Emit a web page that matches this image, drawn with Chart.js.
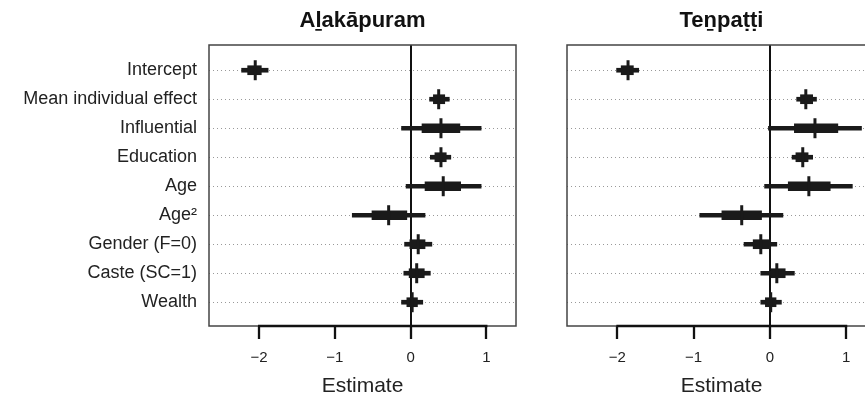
<!DOCTYPE html>
<html>
<head>
<meta charset="utf-8">
<script src="https://cdn.jsdelivr.net/npm/chart.js@4/dist/chart.umd.min.js"></script>
<style>
    body { margin: 0; width: 865px; height: 399px; overflow: hidden; position: relative; background: #fff; }
    .panel { position: absolute; top: 0; height: 399px; }
</style>
</head>
<body>
<div class="panel" style="left:0; width:541px"><canvas id="chart1"></canvas></div>
<div class="panel" style="left:541px; width:360px"><canvas id="chart2"></canvas></div>
<script>
const rowLabels = ["Intercept", "Mean individual effect", "Influential", "Education", "Age", "Age²", "Gender (F=0)", "Caste (SC=1)", "Wealth"];
const xTicks = [-2, -1, 0, 1];

// Alakapuram
const alaMedian  = [-2.05, 0.37, 0.40, 0.40, 0.43, -0.29,  0.10,  0.08,  0.02];
const alaInnerLo = [-2.15, 0.30, 0.15, 0.32, 0.19, -0.51, -0.01, -0.02, -0.05];
const alaInnerHi = [-1.97, 0.45, 0.65, 0.47, 0.66, -0.05,  0.19,  0.18,  0.09];
const alaOuterLo = [-2.23, 0.25, -0.12, 0.26, -0.06, -0.77, -0.08, -0.09, -0.12];
const alaOuterHi = [-1.88, 0.51, 0.93, 0.53, 0.93,  0.19,  0.28,  0.26,  0.16];

// Tenpatti
const tenMedian  = [-1.86, 0.47, 0.59, 0.43, 0.51, -0.37, -0.12, 0.09,  0.01];
const tenInnerLo = [-1.95, 0.40, 0.32, 0.34, 0.24, -0.63, -0.22, 0.00, -0.06];
const tenInnerHi = [-1.79, 0.56, 0.89, 0.50, 0.79, -0.11,  0.01, 0.20,  0.08];
const tenOuterLo = [-2.01, 0.35, -0.02, 0.29, -0.07, -0.92, -0.34, -0.12, -0.12];
const tenOuterHi = [-1.72, 0.61, 1.20, 0.56, 1.08,  0.17,  0.09,  0.32,  0.15];

Chart.defaults.font.family = '"Liberation Sans", Arial, sans-serif';
Chart.defaults.color = "#222";

const boxPlugin = {
    id: "box",
    afterDraw(chart) {
        const { ctx, chartArea: a, scales: { x } } = chart;
        ctx.save();
        ctx.strokeStyle = "#444";
        ctx.lineWidth = 1.5;
        ctx.strokeRect(a.left, a.top, a.width, a.height);
        ctx.strokeStyle = "#111";
        ctx.lineWidth = 2.5;
        ctx.beginPath();
        ctx.moveTo(x.getPixelForValue(xTicks[0]) - 1, a.bottom);
        ctx.lineTo(x.getPixelForValue(xTicks[xTicks.length - 1]) + 1, a.bottom);
        ctx.stroke();
        ctx.restore();
    }
};

function coef_chart (id, title, med, inLo, inHi, outLo, outHi, showLabels, yWidth) {
    return new Chart(document.getElementById(id), {
        type: "bar",
        data: {
            datasets: [
                {
                    type: "scatter",
                    data: med.map((v, i) => ({ x: v, y: i + 1 })),
                    pointStyle: "line",
                    rotation: 90,
                    radius: 10,
                    borderWidth: 3,
                    borderColor: "#1a1a1a",
                    order: 0,
                },
                {
                    data: inLo.map((v, i) => ({ x: [v, inHi[i]], y: i + 1 })),
                    barThickness: 9,
                    backgroundColor: "#1a1a1a",
                    grouped: false,
                    order: 1,
                },
                {
                    data: outLo.map((v, i) => ({ x: [v, outHi[i]], y: i + 1 })),
                    barThickness: 4,
                    backgroundColor: "#1a1a1a",
                    grouped: false,
                    order: 2,
                },
            ],
        },
        options: {
            indexAxis: "y",
            responsive: true,
            maintainAspectRatio: false,
            animation: false,
            layout: { padding: { left: 0, right: 25, top: 0, bottom: 0 } },
            plugins: {
                legend: { display: false },
                tooltip: { enabled: false },
                title: {
                    display: true,
                    text: title,
                    fullSize: false,
                    color: "#111",
                    font: { size: 22, weight: "bold" },
                    padding: { top: 8, bottom: 10.6 },
                },
            },
            scales: {
                x: {
                    type: "linear",
                    min: -2.66,
                    max: 1.39,
                    afterBuildTicks: s => { s.ticks = xTicks.map(v => ({ value: v })); },
                    afterFit: s => { s.height = 73; },
                    ticks: {
                        callback: v => String(v).replace("-", "\u2212"),
                        font: { size: 15 },
                        color: "#222",
                        padding: 10,
                        maxRotation: 0,
                        autoSkip: false,
                    },
                    grid: {
                        color: c => (c.tick && c.tick.value === 0 ? "#111" : "rgba(0,0,0,0)"),
                        lineWidth: 2,
                        tickColor: "#111",
                        tickWidth: 2.3,
                        tickLength: 13,
                    },
                    border: { display: false },
                    title: {
                        display: true,
                        text: "Estimate",
                        color: "#222",
                        font: { size: 21 },
                        padding: { top: 0, bottom: 0 },
                    },
                },
                y: {
                    type: "linear",
                    reverse: true,
                    offset: false,
                    min: 0.13,
                    max: 9.82,
                    afterBuildTicks: s => { s.ticks = rowLabels.map((l, i) => ({ value: i + 1 })); },
                    afterFit: s => { s.width = yWidth; },
                    ticks: {
                        display: showLabels,
                        callback: v => rowLabels[v - 1],
                        font: { size: 18 },
                        color: "#222",
                        padding: 12,
                        autoSkip: false,
                    },
                    grid: { offset: false, color: "#999", lineWidth: 1, drawTicks: false },
                    border: { display: false, dash: [1, 3] },
                },
            },
        },
        plugins: [boxPlugin],
    })
}

coef_chart("chart1", "A\u1E3Bak\u0101puram", alaMedian, alaInnerLo, alaInnerHi, alaOuterLo, alaOuterHi, true, 209);
coef_chart("chart2", "Te\u1E49pa\u1E6D\u1E6Di", tenMedian, tenInnerLo, tenInnerHi, tenOuterLo, tenOuterHi, false, 26);
</script>
</body>
</html>
